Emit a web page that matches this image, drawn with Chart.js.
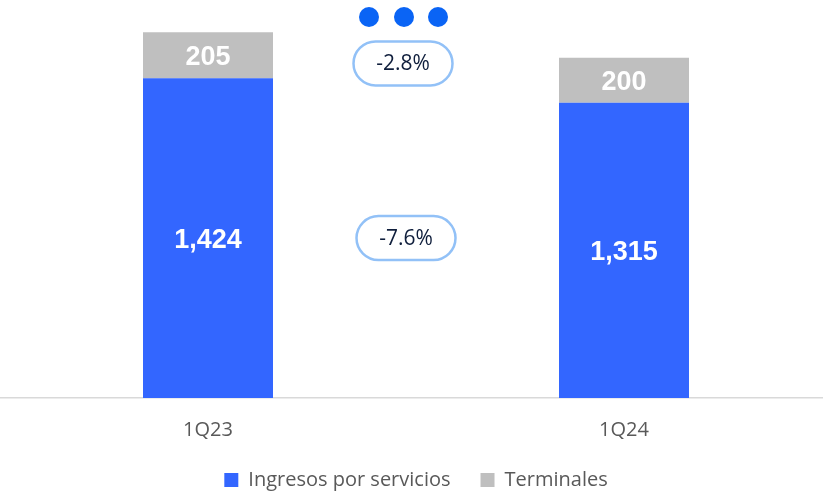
<!DOCTYPE html>
<html>
<head>
<meta charset="utf-8">
<script src="https://cdn.jsdelivr.net/npm/chart.js@4"></script>
<style>
  body { margin: 0; background: #fff; overflow: hidden; }
  #wrap { position: relative; width: 832px; height: 500px; }
</style>
</head>
<body>
<div id="wrap"><canvas id="chart"></canvas></div>
<script>
const quarters = ['1Q23', '1Q24'];
const servicios = [1424, 1315];
const terminales = [205, 200];
const changeLabels = ['-2.8%', '-7.6%'];
const changeLevels = [1490, 712];

const BLUE = '#3366ff';
const GRAY = '#bfbfbf';

// white value labels in the middle of each segment
const segmentLabels = {
    id: 'segmentLabels',
    afterDatasetsDraw(chart) {
        const ctx = chart.ctx;
        ctx.save();
        ctx.fillStyle = '#ffffff';
        ctx.font = 'bold 27px "Liberation Sans", Arial, sans-serif';
        ctx.textAlign = 'center';
        ctx.textBaseline = 'middle';
        chart.data.datasets.forEach((ds, i) => {
            chart.getDatasetMeta(i).data.forEach((bar, j) => {
                const mid = (bar.y + bar.base) / 2;
                ctx.fillText(ds.data[j].toLocaleString('en-US'), bar.x, mid + 2);
            });
        });
        ctx.restore();
    }
};

// change pills between the bars plus the three dots on top
const changePills = {
    id: 'changePills',
    afterDraw(chart) {
        const ctx = chart.ctx;
        const x = chart.scales.x;
        const y = chart.scales.y;
        const cx = (x.getPixelForValue(0) + x.getPixelForValue(1)) / 2 - 13;
        ctx.save();
        changeLabels.forEach((txt, i) => {
            const cy = y.getPixelForValue(changeLevels[i]);
            const px = cx + (i === 1 ? 3 : 0);
            const w = 99, h = 44, r = h / 2;
            ctx.beginPath();
            ctx.roundRect(px - w / 2, cy - h / 2, w, h, r);
            ctx.fillStyle = '#ffffff';
            ctx.fill();
            ctx.lineWidth = 2.5;
            ctx.strokeStyle = '#92c1f7';
            ctx.stroke();
            ctx.fillStyle = '#0f1e3c';
            ctx.font = '21px "Open Sans", "Noto Sans", sans-serif';
            ctx.textAlign = 'center';
            ctx.textBaseline = 'middle';
            ctx.fillText(txt, px, cy + 1);
        });
        ctx.fillStyle = '#0a64f5';
        [-35, 0, 34].forEach(dx => {
            ctx.beginPath();
            ctx.arc(cx + 1 + dx, 17, 10, 0, Math.PI * 2);
            ctx.fill();
        });
        ctx.restore();
    }
};

new Chart(document.getElementById('chart'), {
    type: 'bar',
    data: {
        labels: quarters,
        datasets: [
            {
                label: 'Ingresos por servicios',
                data: servicios,
                backgroundColor: BLUE,
                barPercentage: 0.3125,
                categoryPercentage: 1
            },
            {
                label: 'Terminales',
                data: terminales,
                backgroundColor: GRAY,
                barPercentage: 0.3125,
                categoryPercentage: 1
            }
        ]
    },
    options: {
        responsive: true,
        maintainAspectRatio: false,
        animation: false,
        layout: { padding: { top: 5, left: 0, right: 0, bottom: 0 } },
        plugins: {
            legend: {
                position: 'bottom',
                labels: {
                    boxWidth: 14,
                    boxHeight: 14,
                    padding: 30,
                    color: '#595959',
                    font: { family: '"Open Sans", "Noto Sans", sans-serif', size: 20 }
                }
            },
            tooltip: { enabled: false }
        },
        scales: {
            x: {
                stacked: true,
                grid: { display: false },
                border: { color: '#d9d9d9', width: 1.5 },
                afterFit(scale) { scale.height -= 14; },
                ticks: {
                    color: '#595959',
                    padding: 12,
                    font: { family: '"Open Sans", "Noto Sans", sans-serif', size: 20 }
                }
            },
            y: {
                stacked: true,
                display: false,
                min: 0,
                max: 1750
            }
        }
    },
    plugins: [segmentLabels, changePills]
});
</script>
</body>
</html>
